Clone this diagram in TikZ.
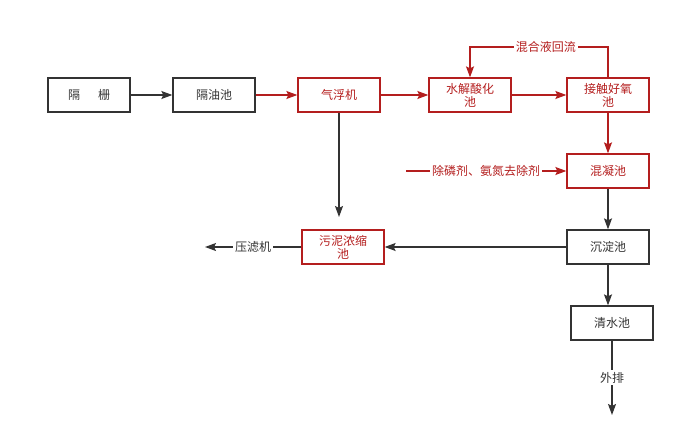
\documentclass[tikz,border=0pt]{standalone}
\usepackage{fontspec}
\setmainfont{Noto Sans CJK SC}
\usetikzlibrary{arrows.meta}
\definecolor{rd}{HTML}{B41E1E}
\definecolor{bk}{HTML}{333333}
\begin{document}
\begin{tikzpicture}[x=1pt,y=-1pt,font=\fontsize{12}{14}\selectfont,
  bx/.style={draw=bk,line width=1.3pt,minimum width=82pt,minimum height=34pt,inner sep=1pt,align=center,text=bk},
  rbx/.style={bx,draw=rd,text=rd},
  ar/.style={-{Stealth[length=11pt,width=8pt,inset=2pt]},line width=1.3pt,draw=bk},
  rar/.style={ar,draw=rd},
  lbl/.style={fill=white,inner sep=2pt}]
\useasboundingbox (0,0) rectangle (685,444);
\node[bx] (a) at (89,95) {隔\hspace{1.5em}栅};
\node[bx] (b) at (214,95) {隔油池};
\node[rbx] (c) at (339,95) {气浮机};
\node[rbx,font=\fontsize{12}{13}\selectfont] (d) at (470,95) {水解酸化\\池};
\node[rbx,font=\fontsize{12}{13}\selectfont] (e) at (608,95) {接触好氧\\池};
\node[rbx] (f) at (608,171) {混凝池};
\node[bx] (g) at (608,247) {沉淀池};
\node[bx] (h) at (612,323) {清水池};
\node[rbx,font=\fontsize{12}{13}\selectfont] (s) at (343,247) {污泥浓缩\\池};
\coordinate (p1) at (205,247);
\coordinate (p2) at (406,171);
\coordinate (p3) at (612,415);
\coordinate (c1) at (339,217);
\draw[ar] (a) -- (b);
\draw[rar] (b) -- (c);
\draw[rar] (c) -- (d);
\draw[rar] (d) -- (e);
\draw[rar] (e) -- (f);
\draw[ar] (f) -- (g);
\draw[ar] (g.south) -- (g.south|-h.north);
\draw[ar] (c) -- (c1);
\draw[ar] (g) -- (s);
\draw[ar] (s) -- node[lbl,text=bk]{压滤机} (p1);
\draw[rar] (p2) -- node[lbl,text=rd,pos=0.5]{除磷剂、氨氮去除剂} (f);
\draw[ar] (h) -- node[lbl,text=bk,pos=0.5]{外排} (p3);
\draw[rar] (e.north) -- (608,47) -- node[lbl,text=rd,pos=0.45]{混合液回流} (470,47) -- (d.north);
\end{tikzpicture}
\end{document}
